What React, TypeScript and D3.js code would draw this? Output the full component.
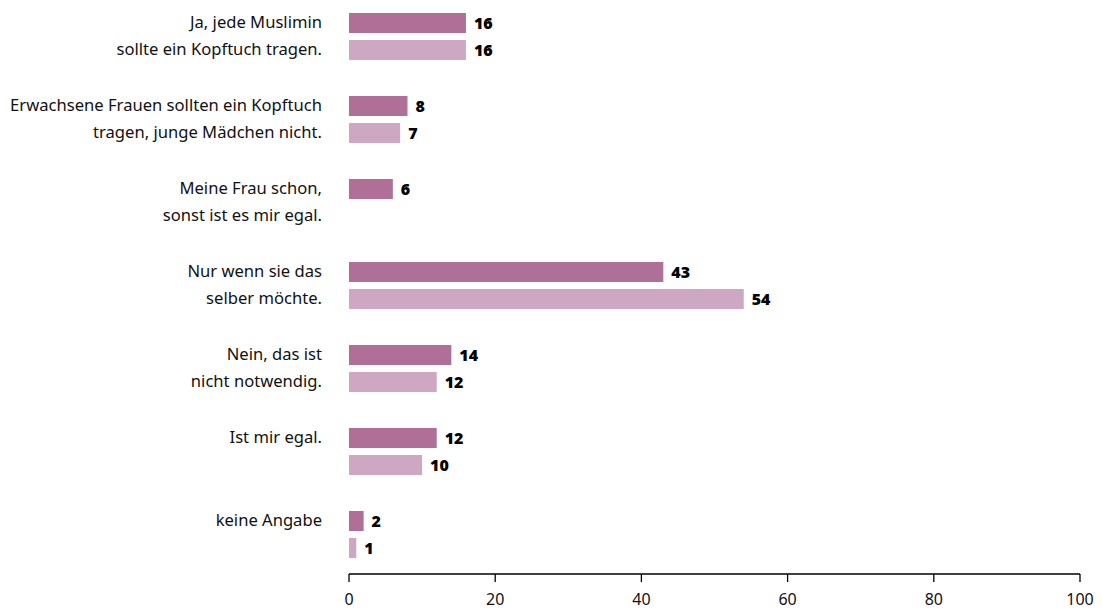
import React from "react";
import * as d3 from "d3";

const categories = [
  ["Ja, jede Muslimin", "sollte ein Kopftuch tragen."],
  ["Erwachsene Frauen sollten ein Kopftuch", "tragen, junge Mädchen nicht."],
  ["Meine Frau schon,", "sonst ist es mir egal."],
  ["Nur wenn sie das", "selber möchte."],
  ["Nein, das ist", "nicht notwendig."],
  ["Ist mir egal."],
  ["keine Angabe"],
];
const seriesA: (number | null)[] = [16, 8, 6, 43, 14, 12, 2];
const seriesB: (number | null)[] = [16, 7, null, 54, 12, 10, 1];
const ticks = [0, 20, 40, 60, 80, 100];

const colorA = "#AF6F97";
const colorB = "#CEA7C2";

export default function App() {
  const W = 1102, H = 611;
  const x = d3.scaleLinear().domain([0, 100]).range([349, 1080]);
  const keys = categories.map((_, i) => String(i));
  const y = d3.scaleBand().domain(keys).range([13, 13 + 83 * 7]).padding(0);
  const sub = d3.scaleBand().domain(["a", "b"]).range([0, 47]).paddingInner(7 / 27).paddingOuter(0);
  const axisY = 574;
  const labelFont = "'Noto Sans', sans-serif";
  const valueFont = "'Open Sans', sans-serif";

  return (
    <svg width={W} height={H} style={{ position: "absolute", left: 0, top: 0, background: "#fff" }}>
      {categories.map((lines, i) => {
        const g0 = y(String(i))!;
        const bars = [
          { k: "a", v: seriesA[i], c: colorA },
          { k: "b", v: seriesB[i], c: colorB },
        ];
        return (
          <g key={i}>
            {bars.map((b) =>
              b.v == null ? null : (
                <g key={b.k}>
                  <rect
                    x={x(0)}
                    y={g0 + sub(b.k)!}
                    width={x(b.v) - x(0)}
                    height={sub.bandwidth()}
                    fill={b.c}
                  />
                  <text
                    x={x(b.v) + 8}
                    y={g0 + sub(b.k)! + sub.bandwidth() / 2}
                    dy="0.37em"
                    fontFamily={valueFont}
                    fontWeight={800}
                    fontSize={16}
                    fill="#000"
                  >
                    {b.v}
                  </text>
                </g>
              )
            )}
            {lines.map((t, j) => (
              <text
                key={j}
                x={322}
                y={g0 + sub(j === 0 ? "a" : "b")! + sub.bandwidth() / 2}
                dy="0.3em"
                textAnchor="end"
                fontFamily={labelFont}
                fontSize={16.6}
                fill="#111"
              >
                {t}
              </text>
            ))}
          </g>
        );
      })}
      <g>
        <line x1={x(0)} x2={x(100)} y1={axisY} y2={axisY} stroke="#000" strokeWidth={1.3} />
        {ticks.map((t) => (
          <g key={t}>
            <line x1={x(t)} x2={x(t)} y1={axisY} y2={axisY + 8} stroke="#000" strokeWidth={1.3} />
            <text
              x={x(t)}
              y={axisY + 31}
              textAnchor="middle"
              fontFamily={labelFont}
              fontSize={16}
              fill="#111"
            >
              {t}
            </text>
          </g>
        ))}
      </g>
    </svg>
  );
}
